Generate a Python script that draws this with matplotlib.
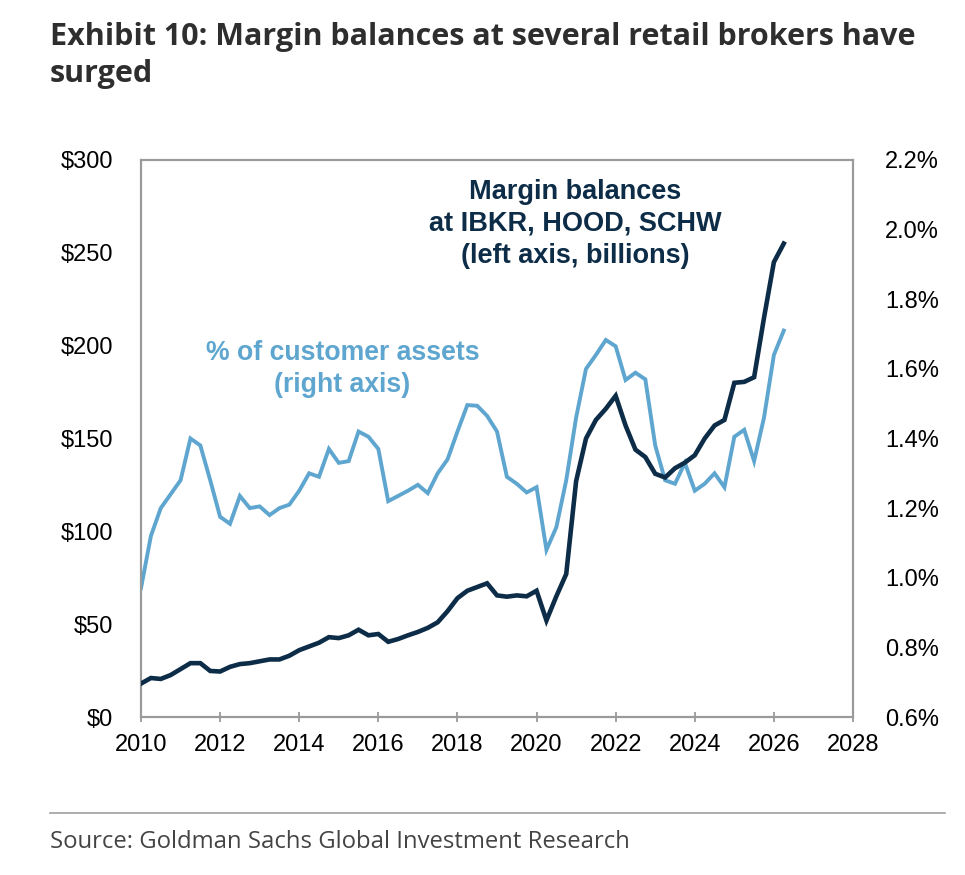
import matplotlib
matplotlib.use('Agg')
import matplotlib.pyplot as plt
import numpy as np

# quarterly observations, 2010Q1 .. 2026Q2
quarters = np.arange(2010, 2026.26, 0.25)

# margin balances at IBKR, HOOD, SCHW ($bn, left axis)
margin = [18, 21, 20.5, 22.6, 25.8, 29, 29, 24.8, 24.5, 27,
          28.5, 29, 30, 31, 31, 33, 36, 38, 40, 43,
          42.5, 44, 47, 44, 44.7, 40.5, 42, 44, 45.8, 48,
          51, 57, 64, 68, 70, 72, 65.5, 64.8, 65.5, 65,
          68, 52, 65, 77, 127, 150, 160, 166, 173, 157,
          144, 140, 131, 129, 134, 137, 141, 150, 157, 160,
          180, 180.5, 183, 215, 245, 255]

# margin as % of customer assets (right axis)
pct_assets = [0.97, 1.12, 1.20, 1.24, 1.28, 1.40, 1.38, 1.28, 1.175, 1.155,
              1.235, 1.20, 1.205, 1.18, 1.20, 1.21, 1.25, 1.30, 1.29, 1.37,
              1.33, 1.335, 1.42, 1.405, 1.37, 1.22, 1.235, 1.25, 1.267, 1.243,
              1.30, 1.34, 1.42, 1.496, 1.494, 1.465, 1.42, 1.29, 1.27, 1.245,
              1.26, 1.08, 1.145, 1.28, 1.46, 1.60, 1.64, 1.683, 1.665, 1.568,
              1.589, 1.57, 1.38, 1.28, 1.27, 1.33, 1.25, 1.27, 1.30, 1.26,
              1.405, 1.425, 1.335, 1.46, 1.64, 1.71]

year_ticks = list(range(2010, 2029, 2))
left_ticks = [0, 50, 100, 150, 200, 250, 300]
right_ticks = [0.6, 0.8, 1.0, 1.2, 1.4, 1.6, 1.8, 2.0, 2.2]

navy = '#0c2c47'
light = '#5ea6cf'
spine_col = '#9a9a9a'
tick_font = 'Liberation Sans'

fig = plt.figure(figsize=(9.65, 8.75), dpi=100)
ax = fig.add_axes([141/965, 1 - 717/875, 712/965, 557/875])
ax2 = ax.twinx()

ax2.plot(quarters, pct_assets, color=light, lw=2.8, solid_joinstyle='miter', zorder=2)
ax.plot(quarters, margin, color=navy, lw=3.3, solid_joinstyle='miter', zorder=3)
ax.set_zorder(ax2.get_zorder() + 1)
ax.patch.set_visible(False)

ax.set_xlim(2010, 2028)
ax.set_ylim(0, 300)
ax2.set_ylim(0.6, 2.2)

ax.set_xticks(year_ticks)
ax.set_xticklabels([str(y) for y in year_ticks], fontsize=17, family=tick_font)
ax.set_yticks(left_ticks)
ax.set_yticklabels(['$%d' % v for v in left_ticks], fontsize=17, family=tick_font)
ax2.set_yticks(right_ticks)
ax2.set_yticklabels(['%.1f%%' % v for v in right_ticks], fontsize=17, family=tick_font)

ax.tick_params(axis='x', direction='inout', length=7, width=1.3, color=spine_col, pad=9)
ax.tick_params(axis='y', length=0, pad=20)
ax2.tick_params(axis='y', length=0, pad=23)

for a in (ax, ax2):
    for s in a.spines.values():
        s.set_color(spine_col)
        s.set_linewidth(1.5)

ax.text(0.61, 0.966, 'Margin balances\nat IBKR, HOOD, SCHW\n(left axis, billions)',
        transform=ax.transAxes, ha='center', va='top', color=navy,
        fontsize=19.5, fontweight='bold', family=tick_font, linespacing=1.3)
ax.text(0.283, 0.676, '% of customer assets\n(right axis)',
        transform=ax.transAxes, ha='center', va='top', color=light,
        fontsize=19.2, fontweight='bold', family=tick_font, linespacing=1.3)

fig.text(50/965, 1 - 22/875, 'Exhibit 10: Margin balances at several retail brokers have\nsurged',
         ha='left', va='top', fontsize=22, fontweight='bold', family='Open Sans',
         color='#2e2e2e', linespacing=1.3)

fig.add_artist(plt.Line2D([50/965, 945/965], [1 - 813/875, 1 - 813/875],
                          color='#a0a0a0', lw=1.2))
fig.text(50/965, 1 - 848/875, 'Source: Goldman Sachs Global Investment Research',
         ha='left', va='baseline', fontsize=17.2, family='Open Sans', color='#444444')

fig.savefig('out.png', dpi=100)
